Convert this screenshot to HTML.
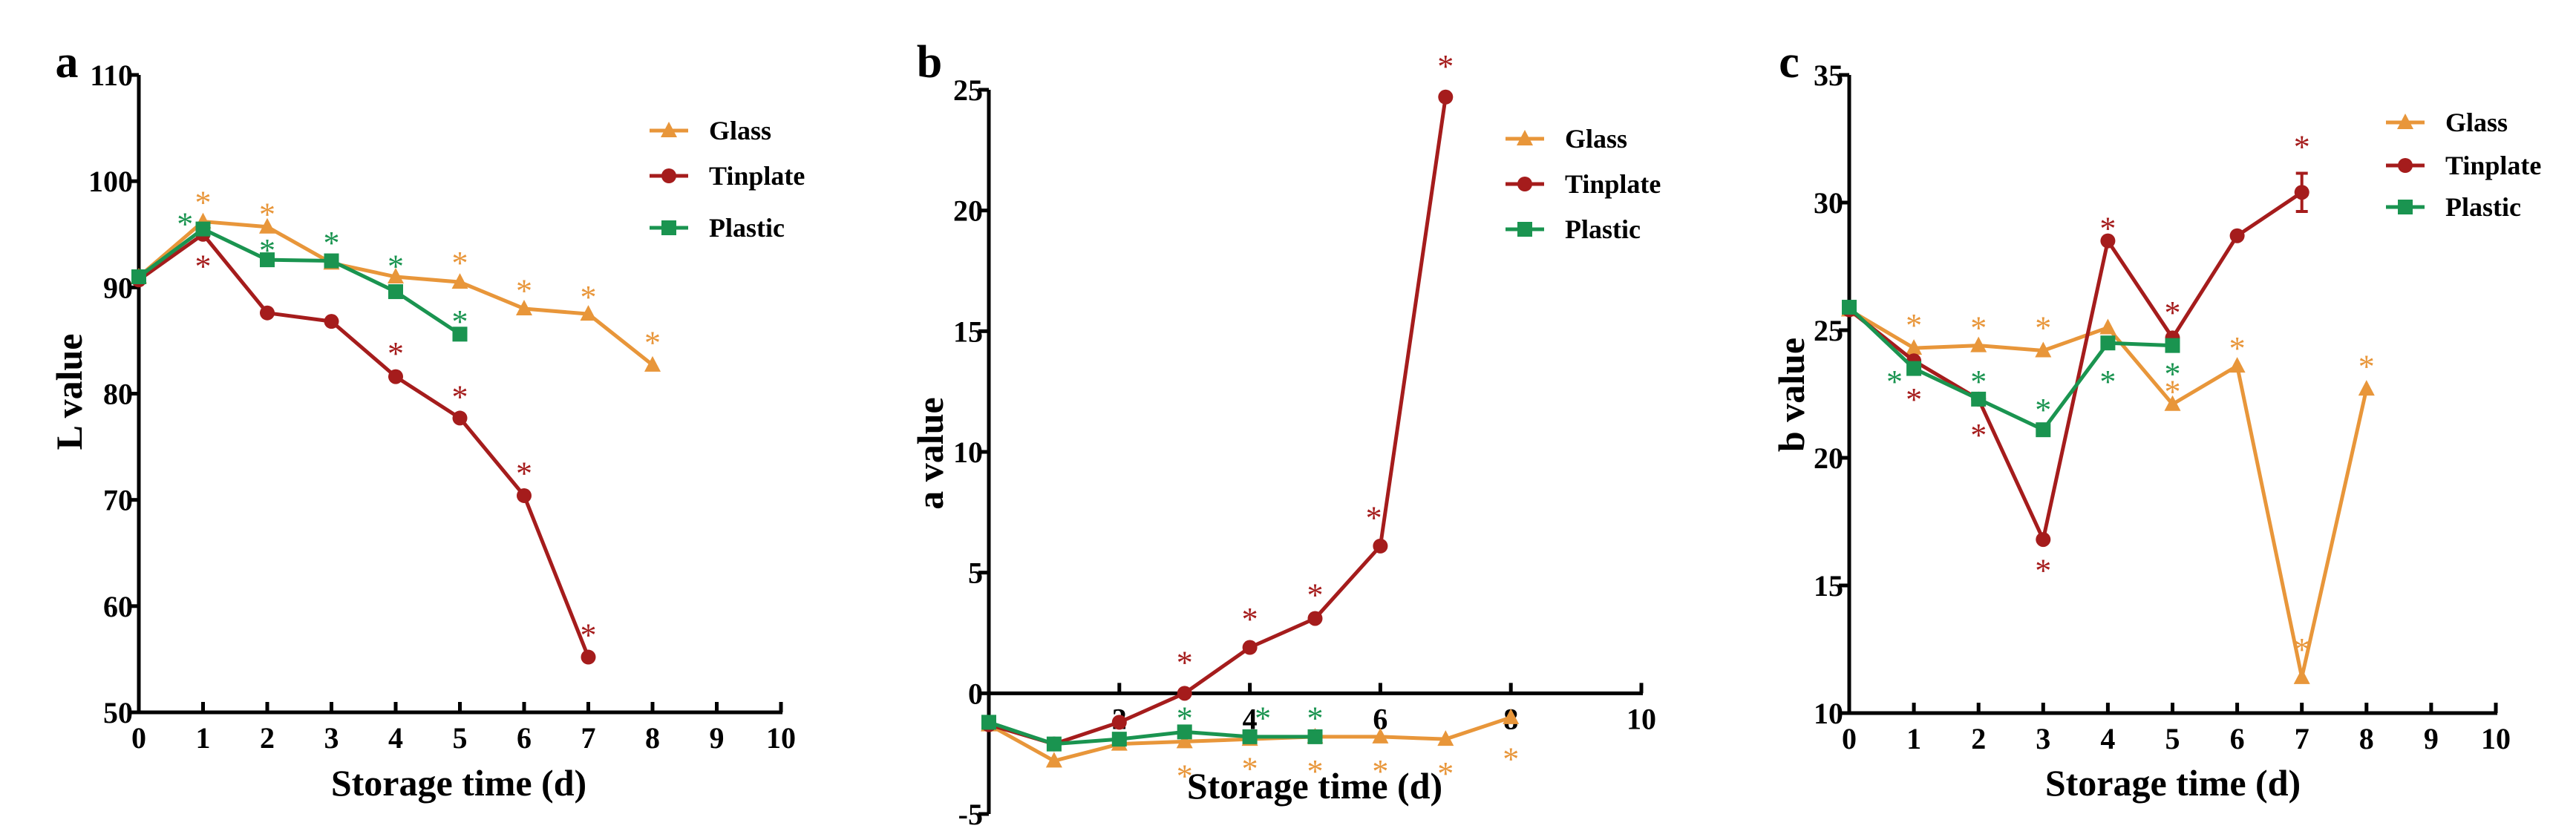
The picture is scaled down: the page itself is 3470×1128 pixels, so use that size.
<!DOCTYPE html>
<html><head><meta charset="utf-8"><style>
body{margin:0;background:#fff;}
svg{display:block;font-family:"Liberation Serif",serif;font-weight:bold;}
</style></head><body>
<svg id="fig" width="3470" height="1128" viewBox="0 0 3470 1128" xmlns="http://www.w3.org/2000/svg"></svg>
<script>
// ---- Panel a data (L value) ----
const aDays = [0,1,2,3,4,5,6,7,8];
const aGlass = [91,96.2,95.7,92.3,91,90.5,88,87.5,82.7];
const aTin = [90.7,95,87.6,86.8,81.6,77.7,70.4,55.2];
const aPlastic = [91,95.5,92.6,92.5,89.6,85.6];
const aYTicks = [50,60,70,80,90,100,110];
const aXTicks = [0,1,2,3,4,5,6,7,8,9,10];
const aStarGlassX = [1,2,5,6,7,8];
const aStarGlassY = [98.5,97.4,92.8,90.2,89.6,85.3];
const aStarTinX = [1,4,5,6,7];
const aStarTinY = [92.5,84.3,80.2,73,57.8];
const aStarPlX = [0.72,2,3,4,5];
const aStarPlY = [96.5,94,94.7,92.5,87.3];
// ---- Panel b data (a value) ----
const bDays = [0,1,2,3,4,5,6,7,8];
const bGlass = [-1.3,-2.8,-2.1,-2.0,-1.9,-1.8,-1.8,-1.9,-1.0];
const bTin = [-1.3,-2.1,-1.2,0,1.9,3.1,6.1,24.7];
const bPlastic = [-1.2,-2.1,-1.9,-1.6,-1.8,-1.8];
const bYTicks = [-5,0,5,10,15,20,25];
const bXTicks = [2,4,6,8,10];
const bStarGlassX = [3,4,5,6,7,8];
const bStarGlassY = [-3.2,-2.9,-3.0,-3.0,-3.1,-2.5];
const bStarTinX = [3,4,5,5.9,7];
const bStarTinY = [1.5,3.3,4.3,7.5,26.2];
const bStarPlX = [3,4.2,5];
const bStarPlY = [-0.8,-0.8,-0.8];
// ---- Panel c data (b value) ----
const cDays = [0,1,2,3,4,5,6,7,8];
const cGlass = [25.8,24.3,24.4,24.2,25.1,22.1,23.6,11.4,22.7];
const cTin = [25.8,23.8,22.3,16.8,28.5,24.7,28.7,30.4];
const cTinErr = [0,0,0,0,0,0,0,0.75];
const cPlastic = [25.9,23.5,22.3,21.1,24.5,24.4];
const cYTicks = [10,15,20,25,30,35];
const cXTicks = [0,1,2,3,4,5,6,7,8,9,10];
const cStarGlassX = [1,2,3,5,6,7,8];
const cStarGlassY = [25.4,25.3,25.3,22.8,24.5,12.7,23.8];
const cStarTinX = [1,2,3,4,5,7];
const cStarTinY = [22.5,21.1,15.8,29.2,25.9,32.4];
const cStarPlX = [0.7,2,3,4,5];
const cStarPlY = [23.2,23.2,22.1,23.2,23.5];

const OR='#E8963A', RD='#A51C1C', GR='#1A9450';
const NS='http://www.w3.org/2000/svg';
const svg=document.getElementById('fig');
function mk(tag,attrs,parent,text){const e=document.createElementNS(NS,tag);for(const k in attrs)e.setAttribute(k,attrs[k]);if(text!==undefined)e.textContent=text;(parent||svg).appendChild(e);return e;}

function marker(g,kind,x,y,c){
  let m;
  if(kind==='tri') m=mk('polygon',{points:`${x},${y-12} ${x-11},${y+9} ${x+11},${y+9}`,fill:c},g);
  else if(kind==='dot') m=mk('circle',{cx:x,cy:y,r:10,fill:c},g);
  else m=mk('rect',{x:x-10,y:y-10,width:20,height:20,fill:c},g);
  return m;
}

function panel(p){
  const g=mk('g',{});
  
  
  const X=v=>p.x0+(v-p.xmin)/(p.xmax-p.xmin)*(p.x1-p.x0);
  const Y=v=>p.yb+(v-p.ymin)/(p.ymax-p.ymin)*(p.yt-p.yb);
  const L=mk('text',{x:p.letterX,y:104,'font-size':62,'text-anchor':'middle'},g,p.letter);
  
  const ya=mk('line',{x1:p.x0,y1:Y(p.ymin),x2:p.x0,y2:Y(p.ymax),stroke:'#000','stroke-width':5},g);
  
  p.yTicks.forEach(t=>{
    mk('line',{x1:p.x0-14,y1:Y(t),x2:p.x0,y2:Y(t),stroke:'#000','stroke-width':5},g);
    const tl=mk('text',{x:p.x0-8,y:Y(t)+14,'font-size':40,'text-anchor':'end'},g,t);
    
  });
  const ay=Y(p.xAxisAt);
  const xa=mk('line',{x1:p.x0,y1:ay,x2:X(p.xmax)+2,y2:ay,stroke:'#000','stroke-width':5},g);
  
  p.xTicks.forEach(t=>{
    mk('line',{x1:X(t),y1:ay-14,x2:X(t),y2:ay,stroke:'#000','stroke-width':5},g);
    const tl=mk('text',{x:X(t),y:ay+48,'font-size':40,'text-anchor':'middle'},g,t);
    
  });
  const xt=mk('text',{x:p.xtX,y:p.xtY,'font-size':50,'text-anchor':'middle'},g,'Storage time (d)');
  
  const yt=mk('text',{x:0,y:0,'font-size':50,'text-anchor':'middle',transform:`translate(${p.ytX},${p.ytY}) rotate(-90)`},g,p.ylabel);
  
  p.series.forEach(s=>{
    const sg=mk('g',{},g);
    
    
    const pts=s.vals.map((v,i)=>X(p.days[i])+','+Y(v)).join(' ');
    mk('polyline',{points:pts,fill:'none',stroke:s.c,'stroke-width':5,'stroke-linejoin':'round'},sg);
    s.vals.forEach((v,i)=>{
      if(s.err&&s.err[i]){
        const e=s.err[i];
        mk('line',{x1:X(p.days[i]),y1:Y(v+e),x2:X(p.days[i]),y2:Y(v-e),stroke:s.c,'stroke-width':4},sg);
        mk('line',{x1:X(p.days[i])-8,y1:Y(v+e),x2:X(p.days[i])+8,y2:Y(v+e),stroke:s.c,'stroke-width':4},sg);
        mk('line',{x1:X(p.days[i])-8,y1:Y(v-e),x2:X(p.days[i])+8,y2:Y(v-e),stroke:s.c,'stroke-width':4},sg);
      }
      const m=marker(sg,s.kind,X(p.days[i]),Y(v),s.c);
      
      
    });
    s.sx.forEach((sx,i)=>{
      const st=mk('text',{x:X(sx),y:Y(s.sy[i])+22,'font-size':44,'text-anchor':'middle',fill:s.c,'font-weight':'normal'},sg,'*');
      
    });
  });
  const lg=mk('g',{},g);
  
  p.series.forEach((s,i)=>{
    const y=p.legY[i];
    const e=mk('g',{},lg);
    
    
    mk('line',{x1:p.legX,y1:y,x2:p.legX+52,y2:y,stroke:s.c,'stroke-width':5},e);
    marker(e,s.kind,p.legX+26,y,s.c);
    mk('text',{x:p.legX+80,y:y+12,'font-size':36},e,s.name);
  });
}

panel({id:'l-value',letter:'a',letterX:90,x0:187,x1:1052,xmin:0,xmax:10,yb:960,yt:101,ymin:50,ymax:110,xAxisAt:50,
  yTicks:aYTicks,xTicks:aXTicks,days:aDays,ylabel:'L value',xtX:618,xtY:1072,ytX:110,ytY:528,
  legX:875,legY:[176,237,307],
  series:[{name:'Glass',vals:aGlass,c:OR,kind:'tri',sx:aStarGlassX,sy:aStarGlassY},
          {name:'Tinplate',vals:aTin,c:RD,kind:'dot',sx:aStarTinX,sy:aStarTinY},
          {name:'Plastic',vals:aPlastic,c:GR,kind:'sq',sx:aStarPlX,sy:aStarPlY}]});
panel({id:'a-value',letter:'b',letterX:1252,x0:1332,x1:2211,xmin:0,xmax:10,yb:1097,yt:121,ymin:-5,ymax:25,xAxisAt:0,
  yTicks:bYTicks,xTicks:bXTicks,days:bDays,ylabel:'a value',xtX:1771,xtY:1076,ytX:1270,ytY:611,
  legX:2028,legY:[187,248,309],
  series:[{name:'Glass',vals:bGlass,c:OR,kind:'tri',sx:bStarGlassX,sy:bStarGlassY},
          {name:'Tinplate',vals:bTin,c:RD,kind:'dot',sx:bStarTinX,sy:bStarTinY},
          {name:'Plastic',vals:bPlastic,c:GR,kind:'sq',sx:bStarPlX,sy:bStarPlY}]});
panel({id:'b-value',letter:'c',letterX:2410,x0:2491,x1:3362,xmin:0,xmax:10,yb:961,yt:101,ymin:10,ymax:35,xAxisAt:10,
  yTicks:cYTicks,xTicks:cXTicks,days:cDays,ylabel:'b value',xtX:2927,xtY:1072,ytX:2430,ytY:532,
  legX:3214,legY:[165,223,279],
  series:[{name:'Glass',vals:cGlass,c:OR,kind:'tri',sx:cStarGlassX,sy:cStarGlassY},
          {name:'Tinplate',vals:cTin,c:RD,kind:'dot',err:cTinErr,sx:cStarTinX,sy:cStarTinY},
          {name:'Plastic',vals:cPlastic,c:GR,kind:'sq',sx:cStarPlX,sy:cStarPlY}]});
</script>
</body></html>
